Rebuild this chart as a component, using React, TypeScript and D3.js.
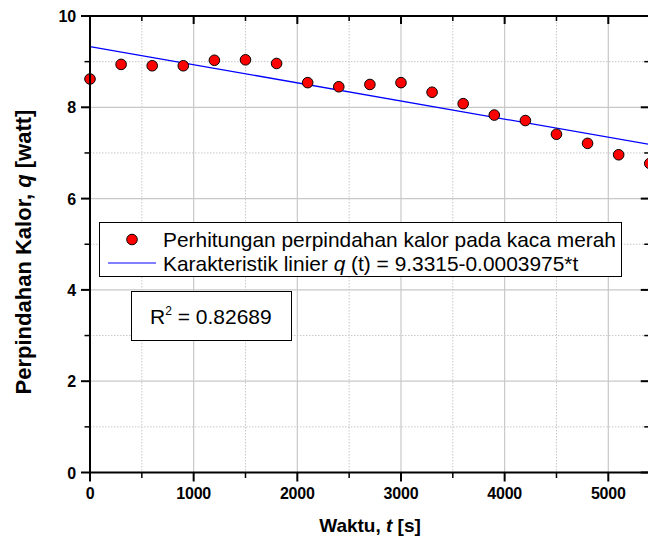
import React from "react";
import * as d3 from "d3";

const times = [0, 300, 600, 900, 1200, 1500, 1800, 2100, 2400, 2700, 3000, 3300, 3600, 3900, 4200, 4500, 4800, 5100, 5400];
const qValues = [8.62, 8.94, 8.91, 8.91, 9.03, 9.04, 8.96, 8.54, 8.45, 8.5, 8.54, 8.33, 8.08, 7.83, 7.71, 7.41, 7.21, 6.96, 6.77];
const fitIntercept = 9.3315;
const fitSlope = -0.0003975;
const xMajorTicks = [0, 1000, 2000, 3000, 4000, 5000];
const xMinorTicks = [500, 1500, 2500, 3500, 4500];
const yMajorTicks = [0, 2, 4, 6, 8, 10];
const yMinorTicks = [1, 3, 5, 7, 9];
const legendLabels = ["Perhitungan perpindahan kalor pada kaca merah", "Karakteristik linier "];
const r2Value = "0.82689";

const W = 648;
const H = 538;
const left = 90;
const top = 16;
const bottom = 472.5;
const xMax = 5400;
const right = left + (xMax / 1000) * 103.66;

export default function App() {
  const x = d3.scaleLinear().domain([0, xMax]).range([left, right]);
  const y = d3.scaleLinear().domain([0, 10]).range([bottom, top]);
  const line = d3
    .line<number>()
    .x((t) => x(t))
    .y((t) => y(fitIntercept + fitSlope * t));
  const font = "'Liberation Sans', Arial, sans-serif";
  const grid = "#c8c8c8";
  return (
    <svg
      width={W}
      height={H}
      style={{ position: "absolute", left: 0, top: 0, background: "#fff" }}
      fontFamily={font}
    >
      <rect x={0} y={0} width={W} height={H} fill="#fff" />
      {/* grid */}
      {xMajorTicks.slice(1).map((t) => (
        <line key={"gx" + t} x1={x(t)} x2={x(t)} y1={top} y2={bottom} stroke={grid} strokeWidth={1.2} />
      ))}
      {xMinorTicks.map((t) => (
        <line key={"gxm" + t} x1={x(t)} x2={x(t)} y1={top} y2={bottom} stroke={grid} strokeWidth={1} strokeDasharray="1.5,1.5" />
      ))}
      {yMajorTicks.slice(1, -1).map((v) => (
        <line key={"gy" + v} x1={left} x2={right} y1={y(v)} y2={y(v)} stroke={grid} strokeWidth={1.2} />
      ))}
      {yMinorTicks.map((v) => (
        <line key={"gym" + v} x1={left} x2={right} y1={y(v)} y2={y(v)} stroke={grid} strokeWidth={1} strokeDasharray="1.5,1.5" />
      ))}
      {/* fit line */}
      <path d={line([0, xMax]) || ""} stroke="#0000ff" strokeWidth={1.3} fill="none" />
      {/* points */}
      {times.map((t, i) => (
        <circle key={"p" + t} cx={x(t)} cy={y(qValues[i])} r={5.3} fill="#ff0000" stroke="#000" strokeWidth={1} />
      ))}
      {/* axes frame */}
      <line x1={left} x2={left} y1={top - 1} y2={bottom + 1} stroke="#000" strokeWidth={2} />
      <line x1={left - 1} x2={right + 1} y1={bottom} y2={bottom} stroke="#000" strokeWidth={2} />
      <line x1={left - 1} x2={right + 1} y1={top} y2={top} stroke="#000" strokeWidth={2} />
      <line x1={right} x2={right} y1={top - 1} y2={bottom + 1} stroke="#000" strokeWidth={2} />
      {/* x ticks */}
      {xMajorTicks.map((t) => (
        <g key={"xt" + t}>
          <line x1={x(t)} x2={x(t)} y1={bottom} y2={bottom + 9} stroke="#000" strokeWidth={2} />
          <line x1={x(t)} x2={x(t)} y1={top} y2={top + 8} stroke="#000" strokeWidth={2} />
          <text x={x(t)} y={bottom + 26.5} textAnchor="middle" fontSize={16} fontWeight="bold" letterSpacing={-0.2}>
            {t}
          </text>
        </g>
      ))}
      {xMinorTicks.map((t) => (
        <g key={"xmt" + t}>
          <line x1={x(t)} x2={x(t)} y1={bottom} y2={bottom + 5.5} stroke="#000" strokeWidth={1.5} />
          <line x1={x(t)} x2={x(t)} y1={top} y2={top + 5} stroke="#000" strokeWidth={1.5} />
        </g>
      ))}
      {/* y ticks */}
      {yMajorTicks.map((v) => (
        <g key={"yt" + v}>
          <line x1={left - 9} x2={left} y1={y(v)} y2={y(v)} stroke="#000" strokeWidth={2} />
          <line x1={right - 9} x2={right} y1={y(v)} y2={y(v)} stroke="#000" strokeWidth={2} />
          <text x={left - 14} y={y(v) + 6} textAnchor="end" fontSize={16} fontWeight="bold" letterSpacing={-0.2}>
            {v}
          </text>
        </g>
      ))}
      {yMinorTicks.map((v) => (
        <g key={"ymt" + v}>
          <line x1={left - 5.5} x2={left} y1={y(v)} y2={y(v)} stroke="#000" strokeWidth={1.5} />
          <line x1={right - 5.5} x2={right} y1={y(v)} y2={y(v)} stroke="#000" strokeWidth={1.5} />
        </g>
      ))}
      {/* axis titles */}
      <text x={370} y={532} textAnchor="middle" fontSize={19} fontWeight="bold">
        Waktu, <tspan fontStyle="italic">t</tspan> [s]
      </text>
      <text
        transform={`translate(31,252) rotate(-90)`}
        textAnchor="middle"
        fontSize={22}
        fontWeight="bold"
      >
        Perpindahan Kalor, <tspan fontStyle="italic">q</tspan> [watt]
      </text>
      {/* legend */}
      <rect x={99.5} y={222.5} width={522} height={54} fill="#fff" stroke="#000" strokeWidth={1} />
      <circle cx={132} cy={239.5} r={5.3} fill="#ff0000" stroke="#000" strokeWidth={1} />
      <line x1={108} x2={156} y1={263} y2={263} stroke="#0000ff" strokeWidth={1.2} />
      <text x={163} y={246.5} fontSize={20.9}>
        {legendLabels[0]}
      </text>
      <text x={163} y={271} fontSize={20.9}>
        {legendLabels[1]}
        <tspan fontStyle="italic">q</tspan> (t) = {fitIntercept}-{(-fitSlope).toFixed(7)}*t
      </text>
      {/* R2 box */}
      <rect x={131.5} y={291.5} width={160} height={49} fill="#fff" stroke="#000" strokeWidth={1} />
      <text x={150} y={324} fontSize={21}>
        R<tspan fontSize={12} dy={-9}>2</tspan>
        <tspan dy={9}> = {r2Value}</tspan>
      </text>
    </svg>
  );
}
